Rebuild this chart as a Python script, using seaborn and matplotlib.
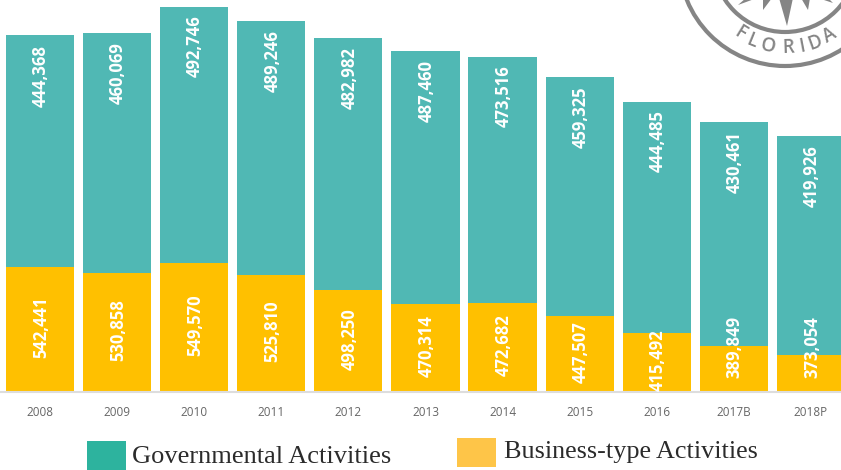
import numpy as np
import matplotlib
matplotlib.use("Agg")
import matplotlib.pyplot as plt
from matplotlib.patches import Circle, Polygon, Rectangle
import seaborn as sns

years = ["2008", "2009", "2010", "2011", "2012", "2013", "2014", "2015", "2016", "2017B", "2018P"]
governmental = [444368, 460069, 492746, 489246, 482982, 487460, 473516, 459325, 444485, 430461, 419926]
business = [542441, 530858, 549570, 525810, 498250, 470314, 472682, 447507, 415492, 389849, 373054]

# last two yellow labels are pushed up in the original, they don't fit the bar
label_nudge = [1.5, 1.5, 1.5, 1.5, 1.5, 1.5, 1.5, 1.5, 1.5, 16, 19]

TEAL = "#50B8B4"
YELLOW = "#FFC000"

sns.set_style("white")
plt.rcParams["font.family"] = ["Open Sans", "DejaVu Sans"]

fig = plt.figure(figsize=(8.41, 4.70), dpi=100)
ax = fig.add_axes([0, 78 / 470, 1, 392 / 470])

sns.barplot(x=years, y=business, color=YELLOW, saturation=1, width=0.885, linewidth=0, ax=ax)
sns.barplot(x=years, y=governmental, bottom=business, color=TEAL, saturation=1, width=0.885, linewidth=0, ax=ax)

# the value axis is cut off at about 302k, the yellow bars don't start at zero
ax.set_ylim(302000, 1055000)
ax.set_xlim(-0.519, 10.39)
ax.set_ylabel("")
ax.set_yticks([])

for spine in ["top", "left", "right"]:
    ax.spines[spine].set_visible(False)
ax.spines["bottom"].set_color("#DDDDDD")
ax.spines["bottom"].set_linewidth(1.5)
ax.tick_params(axis="x", length=0, pad=10, labelsize=8.5, labelcolor="#666666")

for i, (g, b) in enumerate(zip(governmental, business)):
    ax.annotate(f"{g:,}", (i, g + b), xytext=(0.7, -6.5), textcoords="offset points",
                rotation=90, ha="center", va="top", color="white", fontsize=12, fontweight="bold")
    ax.annotate(f"{b:,}", (i, (b + ax.get_ylim()[0]) / 2), xytext=(0.7, label_nudge[i]), textcoords="offset points",
                rotation=90, ha="center", va="center", color="white", fontsize=12, fontweight="bold")

# overlay in pixel coordinates for the legend and the seal
overlay = fig.add_axes([0, 0, 1, 1], facecolor="none")
overlay.set_xlim(0, 841)
overlay.set_ylim(470, 0)
overlay.axis("off")

overlay.add_patch(Rectangle((87, 441), 39, 29, color="#2DB39E", lw=0))
overlay.add_patch(Rectangle((457, 438), 39, 29, color="#FEC548", lw=0))
overlay.text(132, 457, "Governmental Activities", family=["Liberation Serif"], fontsize=19,
             color="#2B2B2B", va="center", ha="left")
overlay.text(504, 452, "Business-type Activities", family=["Liberation Serif"], fontsize=18.8,
             color="#2B2B2B", va="center", ha="left")

# seal, cut off by the top edge
GREY = "#858585"
cx, cy = 785, -40
overlay.add_patch(Circle((cx, cy), 106, fill=False, ec=GREY, lw=3))
overlay.add_patch(Circle((cx, cy), 72, fill=False, ec=GREY, lw=3))
overlay.add_patch(Polygon([(779, -2), (793, -2), (787, 26)], color=GREY, lw=0))
overlay.add_patch(Polygon([(763, -2), (772, -2), (763, 10)], color=GREY, lw=0))
overlay.add_patch(Polygon([(801, -2), (810, -2), (808, 10)], color=GREY, lw=0))
overlay.add_patch(Polygon([(738, 5), (746, -2), (757, -2)], color=GREY, lw=0))
overlay.add_patch(Polygon([(818, -2), (828, -2), (833, 3)], color=GREY, lw=0))

for letter, px, py in zip("FLORIDA", [740, 752, 768, 788, 802, 815, 830], [33, 41, 47, 48, 47, 43, 36]):
    angle = np.degrees(np.arctan2(px - cx, py - cy))
    overlay.text(px, py, letter, rotation=angle, rotation_mode="anchor", ha="center", va="center",
                 fontsize=13.5, color=GREY, fontweight="semibold")

fig.savefig("out.png", dpi=100)
